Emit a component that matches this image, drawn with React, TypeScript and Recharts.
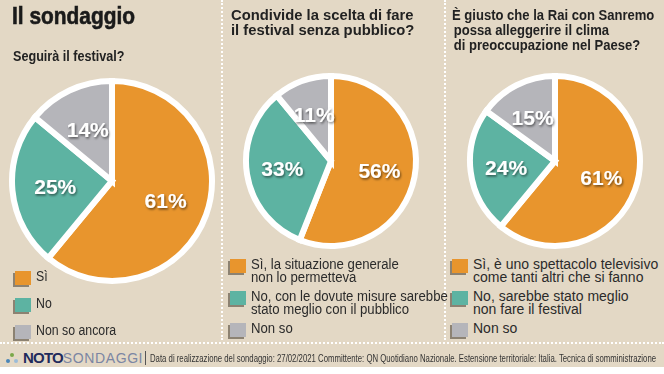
import React from 'react';
import { PieChart, Pie, Cell, Legend } from 'recharts';

const ORANGE = '#e8952d';
const TEAL = '#5db3a2';
const GRAY = '#b5b5ba';
const BG = '#e3d8c5';
const TEXT = '#2b2b2b';

const sliceColors = [ORANGE, TEAL, GRAY];

const q1Labels = ['Sì', 'No', 'Non so ancora'];
const q1Values = [61, 25, 14];

const q2Labels = ['Sì, la situazione generale\nnon lo permetteva', 'No, con le dovute misure sarebbe\nstato meglio con il pubblico', 'Non so'];
const q2Values = [56, 33, 11];

const q3Labels = ['Sì, è uno spettacolo televisivo\ncome tanti altri che si fanno', 'No, sarebbe stato meglio\nnon fare il festival', 'Non so'];
const q3Values = [61, 24, 15];

const titleText = 'Il sondaggio';
const q1Title = ['Seguirà il festival?'];
const q2Title = ['Condivide la scelta di fare', 'il festival senza pubblico?'];
const q3Title = ['È giusto che la Rai con Sanremo', 'possa alleggerire il clima', 'di preoccupazione nel Paese?'];
const footerText = 'Data di realizzazione del sondaggio: 27/02/2021 Committente: QN Quotidiano Nazionale. Estensione territoriale: Italia. Tecnica di somministrazione';

const SANS = "'Liberation Sans', Arial, sans-serif";

const build = (labels: string[], values: number[]) =>
  labels.map((name, i) => ({ name, value: values[i] }));

const RAD = Math.PI / 180;
const makeLabel = (k: number) => (props: any) => {
  const { cx, cy, midAngle, outerRadius, value } = props;
  const r = outerRadius * k;
  const x = cx + r * Math.cos(-midAngle * RAD);
  const y = cy + r * Math.sin(-midAngle * RAD);
  return (
    <text
      x={x}
      y={y}
      fill="#ffffff"
      textAnchor="middle"
      dominantBaseline="central"
      fontSize={21}
      fontWeight={900}
      fontFamily={SANS}
      filter="url(#lblShadow)"
    >
      {value}%
    </text>
  );
};

const legendContent = (labels: string[], rowGap: number, scale: number) => () => (
  <div style={{ display: 'flex', flexDirection: 'column', gap: rowGap }}>
    {labels.map((l, i) => (
      <div key={i} style={{ display: 'flex', alignItems: 'flex-start' }}>
        <div
          style={{
            width: 16,
            height: 14,
            marginTop: 1,
            background: sliceColors[i],
            boxShadow: '-2px 2px 0 #8c8272',
            marginLeft: 2,
            flexShrink: 0,
          }}
        />
        <div
          style={{
            marginLeft: 5,
            fontFamily: SANS,
            fontSize: 14,
            lineHeight: '13px',
            color: TEXT,
            whiteSpace: 'pre',
            transform: `scaleX(${scale})`,
            transformOrigin: 'left top',
          }}
        >
          {l}
        </div>
      </div>
    ))}
  </div>
);

type PanelProps = {
  left: number;
  width: number;
  cx: number;
  cy: number;
  r: number;
  k: number;
  labels: string[];
  values: number[];
  legendLeft: number;
  legendTop: number;
  rowGap: number;
  legendScale: number;
};

const Panel = (p: PanelProps) => {
  const data = build(p.labels, p.values);
  return (
    <div style={{ position: 'absolute', left: p.left, top: 0 }}>
      <PieChart width={p.width} height={345} margin={{ top: 0, right: 0, bottom: 0, left: 0 }}>
        <Pie
          data={data}
          dataKey="value"
          nameKey="name"
          cx={p.cx}
          cy={p.cy}
          outerRadius={p.r}
          startAngle={90}
          endAngle={-270}
          stroke="#ffffff"
          strokeWidth={6}
          labelLine={false}
          label={makeLabel(p.k)}
          isAnimationActive={false}
        >
          {data.map((_, i) => (
            <Cell key={i} fill={sliceColors[i]} />
          ))}
        </Pie>
        <Legend
          content={legendContent(p.labels, p.rowGap, p.legendScale)}
          wrapperStyle={{ position: 'absolute', left: p.legendLeft, top: p.legendTop, width: 'auto' }}
        />
      </PieChart>
    </div>
  );
};

const QTitle = ({ lines, left, top, indent, scale }: { lines: string[]; left: number; top: number; indent?: number; scale: number }) => (
  <div
    style={{
      position: 'absolute',
      left,
      top,
      fontFamily: SANS,
      fontWeight: 700,
      fontSize: 14.5,
      lineHeight: '15px',
      color: '#222',
      whiteSpace: 'nowrap',
      transform: `scaleX(${scale})`,
      transformOrigin: 'left top',
    }}
  >
    {lines.map((l, i) => (
      <div key={i} style={{ paddingLeft: i > 0 ? indent || 0 : 0 }}>{l}</div>
    ))}
  </div>
);

export default function App() {
  return (
    <div
      style={{
        position: 'absolute',
        left: 0,
        top: 0,
        width: 664,
        height: 374,
        background: '#ffffff',
        overflow: 'hidden',
      }}
    >
      <svg width={0} height={0} style={{ position: 'absolute' }}>
        <defs>
          <filter id="lblShadow" x="-30%" y="-30%" width="160%" height="160%">
            <feDropShadow dx="1" dy="1.5" stdDeviation="1.2" floodColor="#000" floodOpacity="0.55" />
          </filter>
        </defs>
      </svg>
      <div style={{ position: 'absolute', left: 0, top: 0, width: 664, height: 367, background: BG }} />
      <div style={{ position: 'absolute', left: 221, top: 0, height: 340, borderLeft: '2px dotted #ffffff' }} />
      <div style={{ position: 'absolute', left: 444, top: 0, height: 340, borderLeft: '2px dotted #ffffff' }} />
      <div style={{ position: 'absolute', left: 0, top: 342, width: 664, borderTop: '2px dotted #ffffff' }} />

      <div
        style={{
          position: 'absolute',
          left: 12,
          top: 3,
          fontFamily: SANS,
          fontWeight: 900,
          fontSize: 24,
          lineHeight: '26px',
          color: '#1a1a1a',
          whiteSpace: 'nowrap',
          transform: 'scaleX(0.87)',
          transformOrigin: 'left top',
          WebkitTextStroke: '0.6px #1a1a1a',
        }}
      >
        {titleText}
      </div>
      <QTitle lines={q1Title} left={13} top={49} scale={0.87} />
      <QTitle lines={q2Title} left={231} top={8} scale={1.02} />
      <QTitle lines={q3Title} left={452} top={8} indent={2} scale={0.9} />

      <Panel left={0} width={221} cx={112} cy={181} r={100} k={0.57} labels={q1Labels} values={q1Values} legendLeft={13} legendTop={270} rowGap={12} legendScale={0.88} />
      <Panel left={223} width={221} cx={108} cy={161} r={85} k={0.58} labels={q2Labels} values={q2Values} legendLeft={5} legendTop={258} rowGap={6} legendScale={0.94} />
      <Panel left={446} width={218} cx={109} cy={161} r={85} k={0.58} labels={q3Labels} values={q3Values} legendLeft={4} legendTop={258} rowGap={6} legendScale={1.0} />

      <div style={{ position: 'absolute', left: 4, top: 349, display: 'flex', alignItems: 'center', whiteSpace: 'nowrap' }}>
        <svg width={16} height={12} style={{ marginRight: 3 }}>
          <circle cx={8} cy={3} r={2} fill="#7aa84a" />
          <circle cx={4} cy={9} r={2} fill="#4a86b8" />
          <circle cx={12} cy={9} r={2} fill="#9bbcd8" />
        </svg>
        <span style={{ fontFamily: SANS, fontWeight: 900, fontSize: 15, color: '#1f2b5c', letterSpacing: -0.8 }}>NOTO</span>
        <span style={{ fontFamily: SANS, fontWeight: 400, fontSize: 14, color: '#7b86a3', letterSpacing: 0.6 }}>SONDAGGI</span>
        <span style={{ marginLeft: 2, width: 1, height: 14, background: '#555', display: 'inline-block' }} />
        <span
          style={{
            marginLeft: 4,
            fontFamily: SANS,
            fontSize: 10.5,
            color: '#333',
            display: 'inline-block',
            transform: 'scaleX(0.74)',
            transformOrigin: 'left center',
          }}
        >
          {footerText}
        </span>
      </div>
    </div>
  );
}
